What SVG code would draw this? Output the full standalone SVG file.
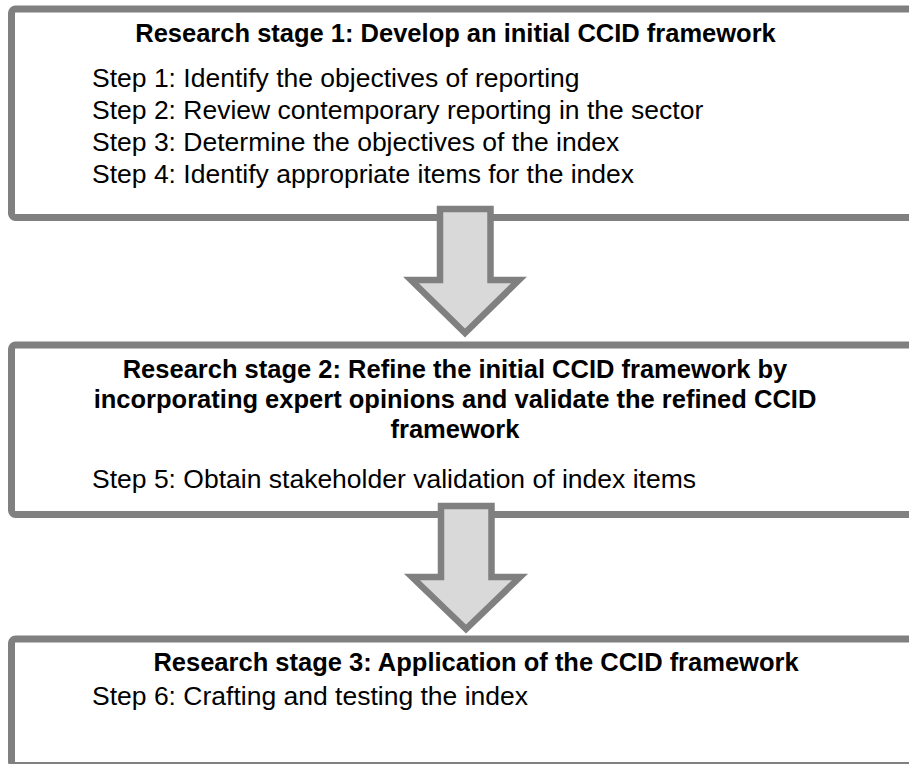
<svg xmlns="http://www.w3.org/2000/svg" width="909" height="764" viewBox="0 0 909 764">
<style>
.box{fill:#fff;stroke:#808080;stroke-width:7}
.arrow{fill:#d9d9d9;stroke:#808080;stroke-width:6.5;stroke-linejoin:miter;stroke-miterlimit:10}
.title{font-family:"Liberation Sans",Arial,sans-serif;font-weight:bold;font-size:25.5px;fill:#000;text-anchor:middle}
.step{font-family:"Liberation Sans",Arial,sans-serif;font-size:26.5px;fill:#000}
</style>
<rect width="909" height="764" fill="#fff"/>
<g id="stage1">
<rect class="box" x="11.5" y="9" width="910" height="208.5" rx="4"/>
<text class="title" x="455.5" y="42">Research stage 1: Develop an initial CCID framework</text>
<text class="step" x="92" y="87">Step 1: Identify the objectives of reporting</text>
<text class="step" x="92" y="119">Step 2: Review contemporary reporting in the sector</text>
<text class="step" x="92" y="151">Step 3: Determine the objectives of the index</text>
<text class="step" x="92" y="183">Step 4: Identify appropriate items for the index</text>
</g>
<g id="stage2">
<rect class="box" x="11.5" y="345" width="910" height="169.5" rx="4"/>
<text class="title" x="455" y="378">Research stage 2: Refine the initial CCID framework by</text>
<text class="title" x="455" y="408">incorporating expert opinions and validate the refined CCID</text>
<text class="title" x="455" y="438">framework</text>
<text class="step" x="92" y="488">Step 5: Obtain stakeholder validation of index items</text>
</g>
<g id="stage3">
<rect class="box" x="11.5" y="639" width="910" height="126.5" rx="4"/>
<text class="title" x="476" y="671">Research stage 3: Application of the CCID framework</text>
<text class="step" x="92" y="705">Step 6: Crafting and testing the index</text>
</g>
<g id="connectors">
<path class="arrow" d="M440,209 V280 H411 L465,333 L519,280 H490.5 V209 Z"/>
<path class="arrow" d="M441,506 V577 H412 L466,629 L520,577 H491.5 V506 Z"/>
</g>
</svg>
